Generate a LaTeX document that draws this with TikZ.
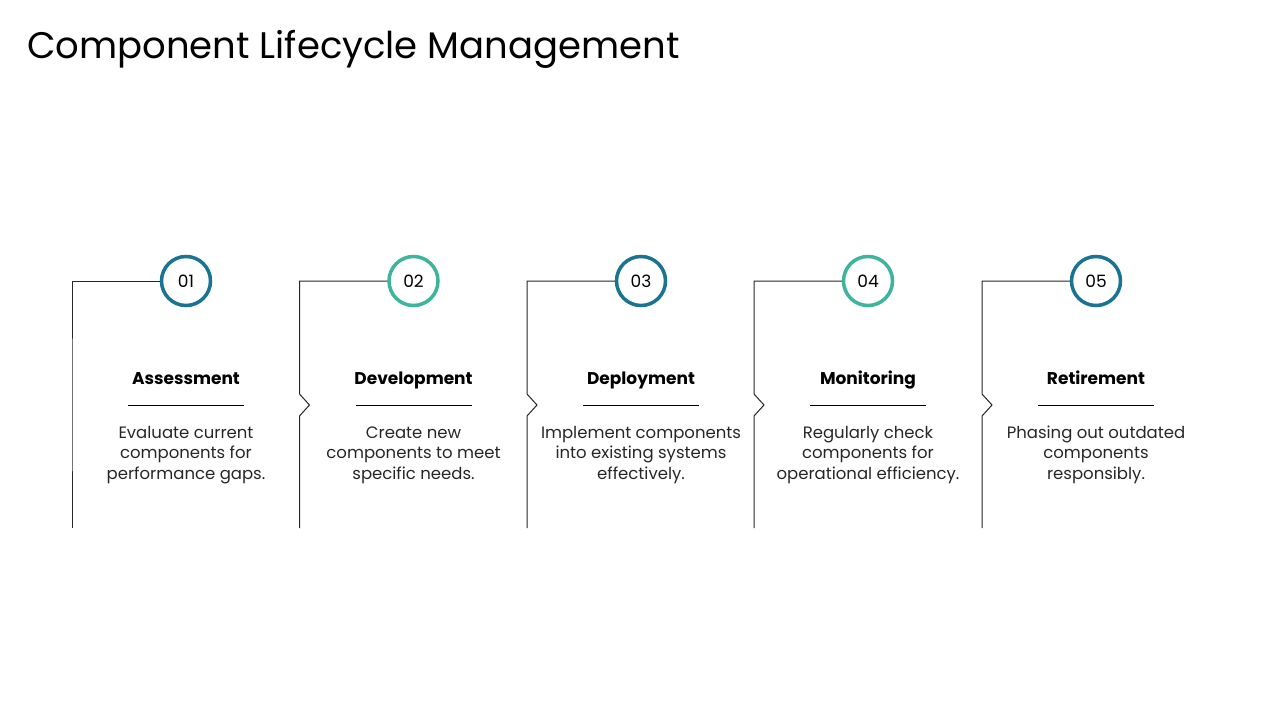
\documentclass[tikz,border=0pt]{standalone}
\usepackage{fontspec}
\setmainfont{Poppins}
\usetikzlibrary{calc}
\definecolor{tealblue}{HTML}{1A7391}
\definecolor{tealgreen}{HTML}{3DB59D}
\tikzset{
  stepnum/.style={circle,draw=#1,line width=3.5pt,fill=white,minimum size=49pt,inner sep=0pt,font=\fontsize{17}{20}\selectfont}, % numbered disc
  bracket/.style={draw=black!85,line width=1pt},
  head/.style={anchor=base,inner sep=0pt,font=\fontsize{17}{20}\selectfont\bfseries},
  desc/.style={align=center,anchor=north,inner sep=0pt,text=black!85,font=\fontsize{16.5}{20.5}\selectfont},
  rulebar/.style={black,line width=1pt},
}

\begin{document}
\begin{tikzpicture}[x=1pt,y=-1pt]
  \useasboundingbox (0,0) rectangle (1280,720);
  \node[anchor=base west,inner sep=0pt,font=\fontsize{37}{44}\selectfont] (title) at (27,58) {Component Lifecycle Management};
  \foreach \i/\x/\n/\col/\head/\desc in {
    1/72/0/tealblue/Assessment/{Evaluate current\\components for\\performance gaps.},
    2/299.5/10/tealgreen/Development/{Create new\\components to meet\\specific needs.},
    3/527/10/tealblue/Deployment/{Implement components\\into existing systems\\effectively.},
    4/754/10/tealgreen/Monitoring/{Regularly check\\components for\\operational efficiency.},
    5/982/10/tealblue/Retirement/{Phasing out outdated\\components\\responsibly.}}{
    \coordinate (top\i) at (\x,281);
    \coordinate (bot\i) at (\x,528);
    \node[stepnum=\col] (c\i) at (\x+114,281) {0\i};
    \node[head] (h\i) at (\x+114,384) {\head};
    \draw[rulebar] (\x+56,405) -- (\x+172,405);
    \node[desc] (d\i) at (\x+114,423.5) {\strut\desc};
    \draw[bracket] (c\i.west) -- (top\i) -- (\x,394) -- (\x+\n,405) -- (\x,416) -- (bot\i);
  }
\end{tikzpicture}
\end{document}
